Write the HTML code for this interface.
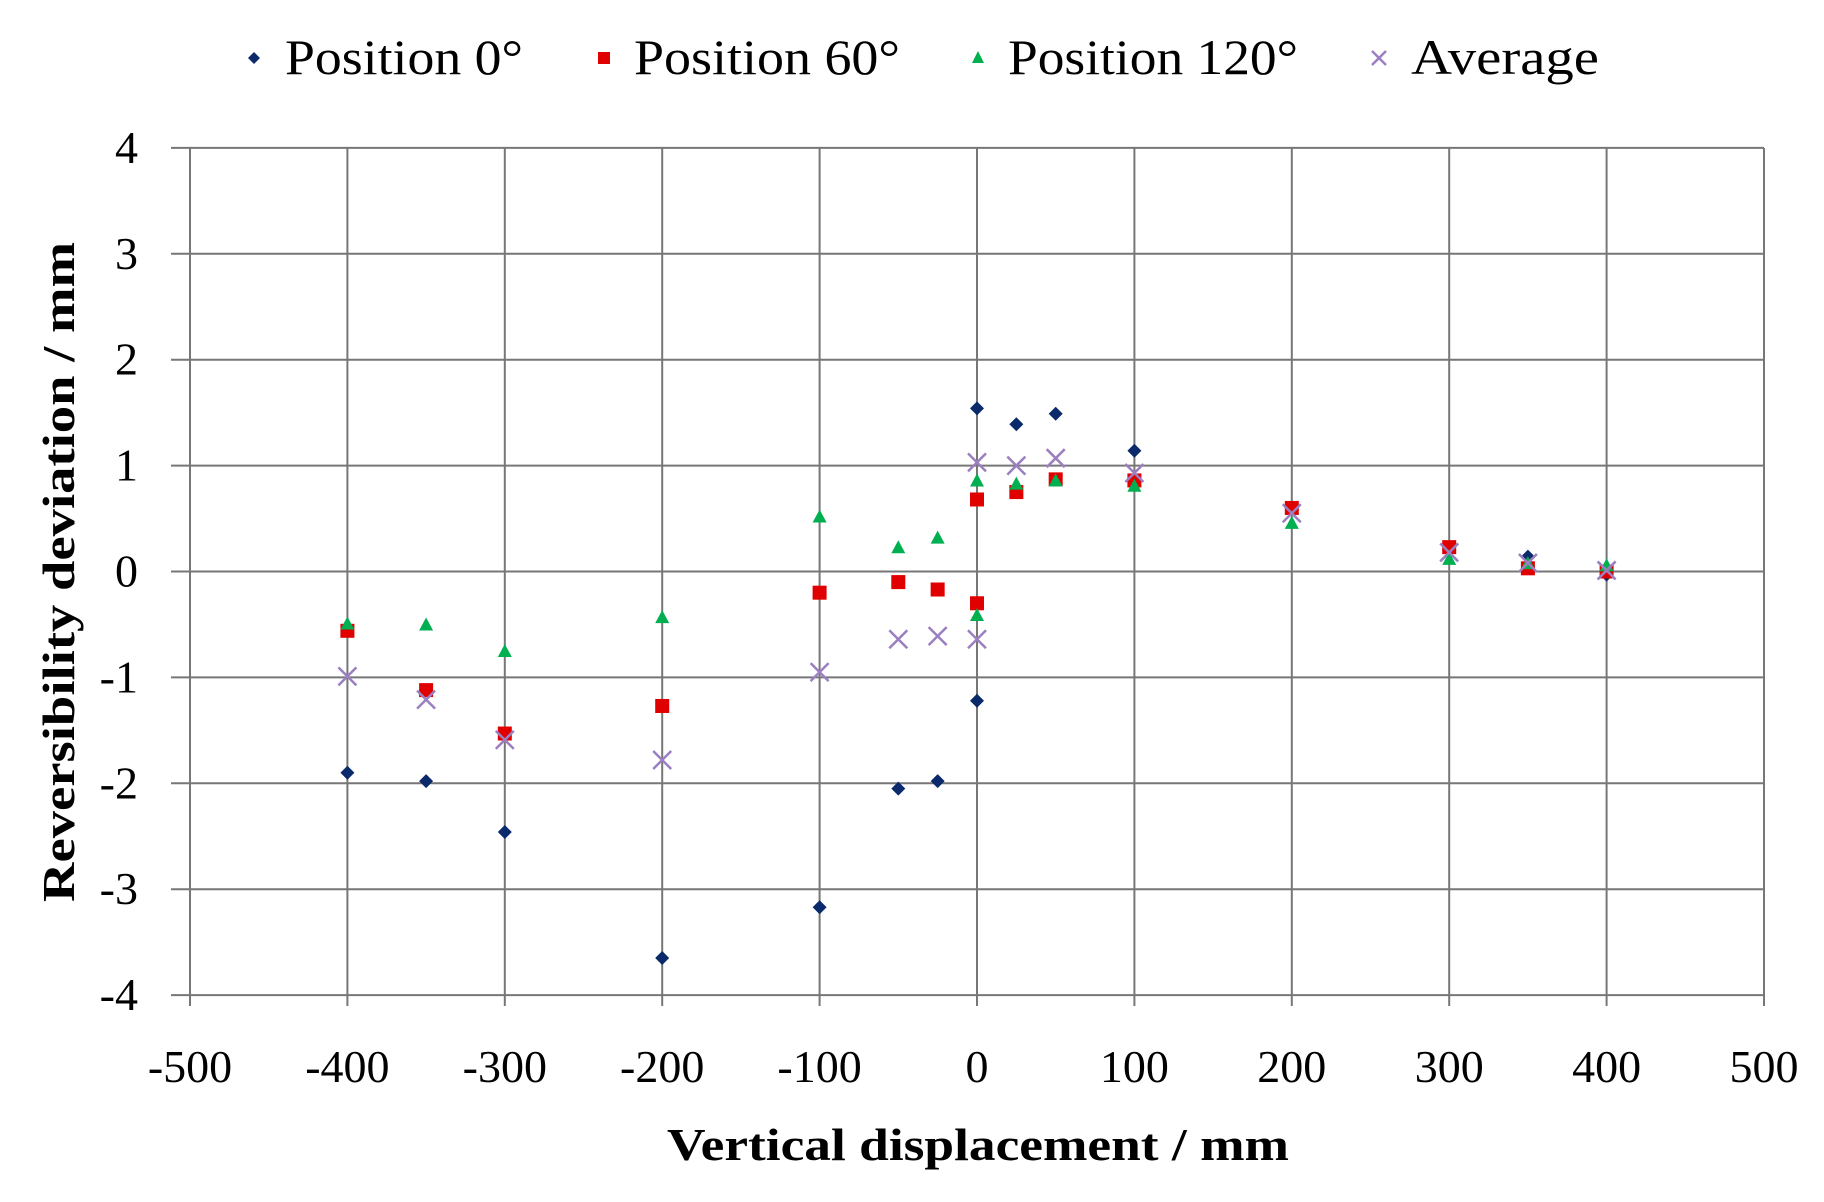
<!DOCTYPE html>
<html><head><meta charset="utf-8"><style>html,body{margin:0;padding:0;background:#fff}svg{display:block}text{font-family:"Liberation Serif",serif;fill:#000}</style></head>
<body>
<svg id="s" width="1824" height="1202" viewBox="0 0 1824 1202" xmlns="http://www.w3.org/2000/svg">
<g id="grid"></g>
<g id="pts"></g>
<g font-size="50">
<path d="M254 52 l6 6 -6 6 -6 -6z" fill="#0a2a6b"/>
<text x="285" y="74" textLength="238" lengthAdjust="spacingAndGlyphs">Position 0°</text>
<rect x="598" y="52" width="12" height="12" fill="#e00000"/>
<text x="634" y="74" textLength="266" lengthAdjust="spacingAndGlyphs">Position 60°</text>
<path d="M978 51 l6 12 h-12z" fill="#00b050"/>
<text x="1008" y="74" textLength="290" lengthAdjust="spacingAndGlyphs">Position 120°</text>
<path d="M1372 51 l14 14 M1386 51 l-14 14" stroke="#9b7fc0" stroke-width="2.5"/>
<text x="1411" y="74" textLength="188" lengthAdjust="spacingAndGlyphs">Average</text>
</g>
<text x="978" y="1160" font-size="46" font-weight="bold" text-anchor="middle" textLength="622" lengthAdjust="spacingAndGlyphs">Vertical displacement / mm</text>
<text transform="translate(74,572) rotate(-90)" font-size="46" font-weight="bold" text-anchor="middle" textLength="660" lengthAdjust="spacingAndGlyphs">Reversibility deviation / mm</text>
</svg>
<script>
var X=function(v){return 190+v*1.574},Y=function(v){return 571.5-v*105.9};
var g='';
for(var i=-4;i<=4;i++){var y=Y(i);g+='<line x1="171" x2="1764" y1="'+y+'" y2="'+y+'" stroke="#777" stroke-width="2"/>';
g+='<text x="138" y="'+(y+15)+'" font-size="46" text-anchor="end">'+i+'</text>';}
for(var v=-500;v<=500;v+=100){var x=X(v+500);g+='<line x1="'+x+'" x2="'+x+'" y1="148" y2="1006" stroke="#777" stroke-width="2"/>';
g+='<text x="'+x+'" y="1082" font-size="46" text-anchor="middle">'+v+'</text>';}
document.getElementById('grid').innerHTML=g;
var xs=[-400,-350,-300,-200,-100,-50,-25,0,0,25,50,100,200,300,350,400];
var P0=[-1.9,-1.98,-2.46,-3.65,-3.17,-2.05,-1.98,-1.22,1.54,1.39,1.49,1.14,0.6,0.2,0.14,-0.03];
var P60=[-0.56,-1.12,-1.53,-1.27,-0.2,-0.1,-0.17,-0.3,0.68,0.75,0.87,0.86,0.6,0.23,0.03,0];
var P120=[-0.5,-0.51,-0.76,-0.44,0.51,0.22,0.31,-0.42,0.85,0.82,0.85,0.8,0.45,0.11,0.07,0.05];
var AV=[-0.99,-1.21,-1.59,-1.78,-0.95,-0.64,-0.61,-0.64,1.03,1.0,1.07,0.93,0.55,0.18,0.08,0.01];
var p='';
xs.forEach(function(v,i){var x=X(v+500),y=Y(P0[i]);p+='<path d="M'+x+' '+(y-7)+' l7 7 -7 7 -7 -7z" fill="#0a2a6b"/>';});
xs.forEach(function(v,i){var x=X(v+500),y=Y(P60[i]);p+='<rect x="'+(x-7)+'" y="'+(y-7)+'" width="14" height="14" fill="#e00000"/>';});
xs.forEach(function(v,i){var x=X(v+500),y=Y(P120[i]);p+='<path d="M'+x+' '+(y-8)+' l7 13 h-14z" fill="#00b050"/>';});
xs.forEach(function(v,i){var x=X(v+500),y=Y(AV[i]);p+='<path d="M'+(x-9)+' '+(y-9)+' l18 18 M'+(x+9)+' '+(y-9)+' l-18 18" stroke="#9b7fc0" stroke-width="2.5"/>';});
document.getElementById('pts').innerHTML=p;
</script>
</body></html>
